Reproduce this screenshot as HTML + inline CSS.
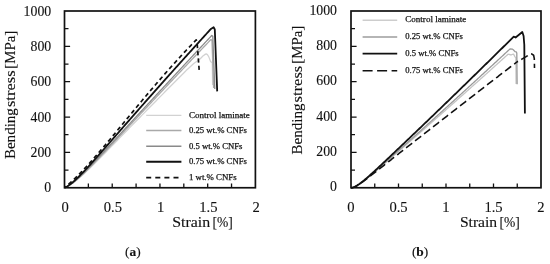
<!DOCTYPE html>
<html><head><meta charset="utf-8"><style>
html,body{margin:0;padding:0;background:#fff;}
body{width:550px;height:264px;overflow:hidden;}
svg{display:block;will-change:transform;}
text{font-family:"Liberation Serif", serif;fill:#111;stroke:#111;stroke-width:0.12px;}
.lg{stroke-width:0.25px;}
</style></head><body>
<svg width="550" height="264" viewBox="0 0 550 264">
<rect width="550" height="264" fill="#fff"/>
<path d="M64.50,187.75 L65.50,187.38 L66.50,186.95 L67.50,186.46 L68.50,185.92 L69.50,185.34 L70.50,184.71 L71.50,184.05 L72.50,183.35 L73.50,182.62 L74.50,181.87 L75.50,181.09 L76.50,180.28 L77.50,179.45 L78.50,178.61 L79.50,177.75 L80.50,176.87 L81.50,175.97 L82.50,175.07 L83.50,174.15 L84.50,173.22 L85.50,172.28 L86.50,171.34 L87.50,170.38 L88.50,169.42 L89.50,168.45 L90.50,167.48 L91.50,166.50 L92.50,165.51 L93.50,164.52 L94.50,163.53 L95.50,162.53 L96.50,161.53 L97.50,160.53 L98.50,159.52 L99.50,158.52 L100.50,157.51 L101.50,156.50 L102.50,155.48 L103.50,154.47 L104.50,153.45 L105.50,152.44 L106.50,151.42 L107.50,150.40 L108.50,149.38 L109.50,148.36 L110.50,147.34 L111.50,146.32 L112.50,145.29 L113.50,144.27 L114.50,143.25 L115.50,142.23 L116.50,141.20 L117.50,140.18 L118.50,139.16 L119.50,138.13 L120.50,137.11 L121.50,136.09 L122.50,135.06 L123.50,134.04 L124.50,133.02 L125.50,132.00 L126.50,130.97 L127.50,129.95 L128.50,128.93 L129.50,127.91 L130.50,126.89 L131.50,125.86 L132.50,124.84 L133.50,123.82 L134.50,122.80 L135.50,121.78 L136.50,120.76 L137.50,119.74 L138.50,118.72 L139.50,117.70 L140.50,116.68 L141.50,115.66 L142.50,114.65 L143.50,113.63 L144.50,112.61 L145.50,111.59 L146.50,110.58 L147.50,109.56 L148.50,108.54 L149.50,107.53 L150.50,106.51 L151.50,105.49 L152.50,104.48 L153.50,103.47 L154.50,102.45 L155.50,101.44 L156.50,100.42 L157.50,99.41 L158.50,98.40 L159.50,97.38 L160.50,96.37 L161.50,95.36 L162.50,94.35 L163.50,93.34 L164.50,92.33 L165.50,91.32 L166.50,90.31 L167.50,89.30 L168.50,88.29 L169.50,87.28 L170.50,86.27 L171.50,85.26 L172.50,84.25 L173.50,83.25 L174.50,82.24 L175.50,81.23 L176.50,80.22 L177.50,79.22 L178.50,78.21 L179.50,77.21 L180.50,76.20 L181.50,75.20 L182.50,74.19 L183.50,73.19 L184.50,72.19 L184.50,72.19 C184.83,71.85 185.17,71.52 185.50,71.18 C185.80,70.88 186.09,70.57 186.40,70.28 C188.75,68.11 191.04,65.85 193.50,63.80 C195.47,62.16 197.71,60.83 199.70,59.20 C201.05,58.10 202.13,56.66 203.50,55.60 C204.37,54.93 205.55,53.85 206.40,54.00 C207.25,54.15 208.07,55.54 208.60,56.50 C209.47,58.08 209.93,59.90 210.60,61.60 L212.30,63.00 L212.60,85.00" fill="none" stroke="#d2d2d2" stroke-width="1.3" stroke-linejoin="round"/>
<path d="M64.50,187.75 L65.50,187.34 L66.50,186.87 L67.50,186.35 L68.50,185.78 L69.50,185.17 L70.50,184.52 L71.50,183.83 L72.50,183.11 L73.50,182.36 L74.50,181.58 L75.50,180.77 L76.50,179.94 L77.50,179.10 L78.50,178.23 L79.50,177.34 L80.50,176.44 L81.50,175.52 L82.50,174.59 L83.50,173.64 L84.50,172.69 L85.50,171.72 L86.50,170.75 L87.50,169.76 L88.50,168.77 L89.50,167.77 L90.50,166.77 L91.50,165.76 L92.50,164.74 L93.50,163.72 L94.50,162.69 L95.50,161.66 L96.50,160.63 L97.50,159.59 L98.50,158.55 L99.50,157.50 L100.50,156.46 L101.50,155.41 L102.50,154.36 L103.50,153.30 L104.50,152.25 L105.50,151.19 L106.50,150.13 L107.50,149.08 L108.50,148.02 L109.50,146.95 L110.50,145.89 L111.50,144.83 L112.50,143.77 L113.50,142.70 L114.50,141.64 L115.50,140.57 L116.50,139.51 L117.50,138.44 L118.50,137.38 L119.50,136.31 L120.50,135.24 L121.50,134.18 L122.50,133.11 L123.50,132.04 L124.50,130.98 L125.50,129.91 L126.50,128.84 L127.50,127.77 L128.50,126.71 L129.50,125.64 L130.50,124.57 L131.50,123.51 L132.50,122.44 L133.50,121.37 L134.50,120.31 L135.50,119.24 L136.50,118.18 L137.50,117.11 L138.50,116.04 L139.50,114.98 L140.50,113.91 L141.50,112.85 L142.50,111.78 L143.50,110.72 L144.50,109.65 L145.50,108.59 L146.50,107.53 L147.50,106.46 L148.50,105.40 L149.50,104.33 L150.50,103.27 L151.50,102.21 L152.50,101.15 L153.50,100.08 L154.50,99.02 L155.50,97.96 L156.50,96.90 L157.50,95.84 L158.50,94.78 L159.50,93.72 L160.50,92.66 L161.50,91.60 L162.50,90.54 L163.50,89.48 L164.50,88.42 L165.50,87.36 L166.50,86.30 L167.50,85.24 L168.50,84.18 L169.50,83.12 L170.50,82.07 L171.50,81.01 L172.50,79.95 L173.50,78.90 L174.50,77.84 L175.50,76.78 L176.50,75.73 L177.50,74.67 L178.50,73.62 L179.50,72.56 L180.50,71.51 L181.50,70.45 L182.50,69.40 L183.50,68.34 L184.50,67.29 L185.50,66.23 L186.50,65.18 L187.50,64.13 L188.50,63.08 L189.50,62.02 L190.50,60.97 L191.50,59.92 L192.50,58.87 L193.50,57.82 L194.50,56.77 L195.50,55.72 L196.50,54.67 L197.50,53.62 L198.50,52.57 L199.50,51.52 L200.50,50.47 L201.50,49.42 L202.50,48.37 L203.50,47.32 L204.50,46.27 L205.50,45.22 L206.50,44.18 L207.50,43.13 L208.50,42.08 L209.50,41.04 L210.50,39.99 L211.00,39.47 L212.00,40.50 L213.60,88.00" fill="none" stroke="#a9a9a9" stroke-width="1.3" stroke-linejoin="round"/>
<path d="M64.50,187.75 L65.50,187.33 L66.50,186.85 L67.50,186.30 L68.50,185.70 L69.50,185.06 L70.50,184.37 L71.50,183.64 L72.50,182.88 L73.50,182.08 L74.50,181.26 L75.50,180.40 L76.50,179.53 L77.50,178.64 L78.50,177.72 L79.50,176.79 L80.50,175.84 L81.50,174.88 L82.50,173.91 L83.50,172.93 L84.50,171.93 L85.50,170.93 L86.50,169.92 L87.50,168.90 L88.50,167.87 L89.50,166.84 L90.50,165.80 L91.50,164.76 L92.50,163.71 L93.50,162.66 L94.50,161.61 L95.50,160.55 L96.50,159.49 L97.50,158.43 L98.50,157.37 L99.50,156.30 L100.50,155.23 L101.50,154.16 L102.50,153.09 L103.50,152.02 L104.50,150.94 L105.50,149.87 L106.50,148.79 L107.50,147.71 L108.50,146.64 L109.50,145.56 L110.50,144.48 L111.50,143.40 L112.50,142.32 L113.50,141.24 L114.50,140.16 L115.50,139.08 L116.50,138.00 L117.50,136.92 L118.50,135.84 L119.50,134.76 L120.50,133.68 L121.50,132.59 L122.50,131.51 L123.50,130.43 L124.50,129.35 L125.50,128.27 L126.50,127.19 L127.50,126.11 L128.50,125.02 L129.50,123.94 L130.50,122.86 L131.50,121.78 L132.50,120.70 L133.50,119.62 L134.50,118.54 L135.50,117.46 L136.50,116.38 L137.50,115.30 L138.50,114.22 L139.50,113.14 L140.50,112.06 L141.50,110.98 L142.50,109.90 L143.50,108.82 L144.50,107.74 L145.50,106.66 L146.50,105.58 L147.50,104.50 L148.50,103.42 L149.50,102.34 L150.50,101.26 L151.50,100.18 L152.50,99.11 L153.50,98.03 L154.50,96.95 L155.50,95.87 L156.50,94.79 L157.50,93.72 L158.50,92.64 L159.50,91.56 L160.50,90.48 L161.50,89.41 L162.50,88.33 L163.50,87.25 L164.50,86.18 L165.50,85.10 L166.50,84.02 L167.50,82.95 L168.50,81.87 L169.50,80.80 L170.50,79.72 L171.50,78.65 L172.50,77.57 L173.50,76.50 L174.50,75.42 L175.50,74.35 L176.50,73.27 L177.50,72.20 L178.50,71.12 L179.50,70.05 L180.50,68.97 L181.50,67.90 L182.50,66.83 L183.50,65.75 L184.50,64.68 L185.50,63.61 L186.50,62.53 L187.50,61.46 L188.50,60.39 L189.50,59.32 L190.50,58.24 L191.50,57.17 L192.50,56.10 L193.50,55.03 L194.50,53.96 L195.50,52.88 L196.50,51.81 L197.50,50.74 L198.50,49.67 L199.50,48.60 L200.50,47.53 L201.50,46.46 L202.50,45.39 L203.50,44.32 L204.50,43.25 L205.50,42.18 L206.50,41.11 L207.50,40.04 L208.50,38.97 L209.50,37.90 L210.50,36.83 L211.50,35.76 L211.80,35.44 L212.80,36.30 L214.80,89.00" fill="none" stroke="#8a8a8a" stroke-width="1.3" stroke-linejoin="round"/>
<path d="M64.50,187.75 L65.50,187.29 L66.50,186.76 L67.50,186.17 L68.50,185.52 L69.50,184.83 L70.50,184.09 L71.50,183.31 L72.50,182.49 L73.50,181.64 L74.50,180.76 L75.50,179.85 L76.50,178.92 L77.50,177.97 L78.50,176.99 L79.50,176.00 L80.50,174.99 L81.50,173.97 L82.50,172.93 L83.50,171.89 L84.50,170.83 L85.50,169.76 L86.50,168.68 L87.50,167.59 L88.50,166.50 L89.50,165.40 L90.50,164.30 L91.50,163.19 L92.50,162.08 L93.50,160.96 L94.50,159.84 L95.50,158.71 L96.50,157.58 L97.50,156.45 L98.50,155.32 L99.50,154.18 L100.50,153.05 L101.50,151.91 L102.50,150.77 L103.50,149.63 L104.50,148.49 L105.50,147.35 L106.50,146.20 L107.50,145.06 L108.50,143.92 L109.50,142.77 L110.50,141.63 L111.50,140.48 L112.50,139.34 L113.50,138.19 L114.50,137.05 L115.50,135.90 L116.50,134.76 L117.50,133.61 L118.50,132.47 L119.50,131.32 L120.50,130.18 L121.50,129.04 L122.50,127.89 L123.50,126.75 L124.50,125.61 L125.50,124.46 L126.50,123.32 L127.50,122.18 L128.50,121.04 L129.50,119.90 L130.50,118.76 L131.50,117.62 L132.50,116.48 L133.50,115.34 L134.50,114.20 L135.50,113.07 L136.50,111.93 L137.50,110.79 L138.50,109.66 L139.50,108.52 L140.50,107.39 L141.50,106.25 L142.50,105.12 L143.50,103.99 L144.50,102.85 L145.50,101.72 L146.50,100.59 L147.50,99.46 L148.50,98.33 L149.50,97.20 L150.50,96.07 L151.50,94.94 L152.50,93.81 L153.50,92.68 L154.50,91.56 L155.50,90.43 L156.50,89.30 L157.50,88.18 L158.50,87.05 L159.50,85.93 L160.50,84.81 L161.50,83.68 L162.50,82.56 L163.50,81.44 L164.50,80.32 L165.50,79.20 L166.50,78.08 L167.50,76.96 L168.50,75.84 L169.50,74.72 L170.50,73.60 L171.50,72.49 L172.50,71.37 L173.50,70.25 L174.50,69.14 L175.50,68.02 L176.50,66.91 L177.50,65.80 L178.50,64.68 L179.50,63.57 L180.50,62.46 L181.50,61.35 L182.50,60.24 L183.50,59.13 L184.50,58.02 L185.50,56.91 L186.50,55.80 L187.50,54.69 L188.50,53.59 L189.50,52.48 L190.50,51.37 L191.50,50.27 L192.50,49.16 L193.50,48.06 L194.50,46.96 L195.50,45.85 L196.50,44.75 L197.50,43.65 L198.50,42.55 L199.50,41.45 L200.50,40.35 L201.50,39.25 L202.50,38.15 L203.50,37.05 L204.50,35.95 L205.50,34.85 L206.50,33.76 L207.50,32.66 L208.50,31.57 L209.50,30.47 L210.50,29.38 L210.90,28.94 L213.60,27.30 L214.80,29.50 L217.20,91.40" fill="none" stroke="#111" stroke-width="1.8" stroke-linejoin="round"/>
<path d="M64.50,187.75 L65.50,186.93 L66.50,186.10 L67.50,185.25 L68.50,184.38 L69.50,183.50 L70.50,182.60 L71.50,181.68 L72.50,180.75 L73.50,179.81 L74.50,178.86 L75.50,177.89 L76.50,176.90 L77.50,175.91 L78.50,174.91 L79.50,173.89 L80.50,172.86 L81.50,171.82 L82.50,170.78 L83.50,169.72 L84.50,168.65 L85.50,167.58 L86.50,166.49 L87.50,165.40 L88.50,164.30 L89.50,163.20 L90.50,162.08 L91.50,160.96 L92.50,159.83 L93.50,158.70 L94.50,157.56 L95.50,156.42 L96.50,155.27 L97.50,154.11 L98.50,152.95 L99.50,151.79 L100.50,150.62 L101.50,149.44 L102.50,148.27 L103.50,147.09 L104.50,145.90 L105.50,144.71 L106.50,143.52 L107.50,142.33 L108.50,141.13 L109.50,139.94 L110.50,138.74 L111.50,137.53 L112.50,136.33 L113.50,135.12 L114.50,133.92 L115.50,132.71 L116.50,131.50 L117.50,130.29 L118.50,129.07 L119.50,127.86 L120.50,126.65 L121.50,125.44 L122.50,124.22 L123.50,123.01 L124.50,121.79 L125.50,120.58 L126.50,119.36 L127.50,118.15 L128.50,116.94 L129.50,115.72 L130.50,114.51 L131.50,113.30 L132.50,112.09 L133.50,110.88 L134.50,109.67 L135.50,108.47 L136.50,107.26 L137.50,106.06 L138.50,104.85 L139.50,103.65 L140.50,102.45 L141.50,101.25 L142.50,100.05 L143.50,98.86 L144.50,97.67 L145.50,96.48 L146.50,95.29 L147.50,94.10 L148.50,92.91 L149.50,91.73 L150.50,90.55 L151.50,89.37 L152.50,88.20 L153.50,87.03 L154.50,85.85 L155.50,84.69 L156.50,83.52 L157.50,82.36 L158.50,81.20 L159.50,80.04 L160.50,78.89 L161.50,77.74 L162.50,76.59 L163.50,75.44 L164.50,74.30 L165.50,73.16 L166.50,72.03 L167.50,70.89 L168.50,69.76 L169.50,68.64 L170.50,67.51 L171.50,66.39 L172.50,65.28 L173.50,64.16 L174.50,63.06 L175.50,61.95 L176.50,60.85 L177.50,59.75 L178.50,58.65 L179.50,57.56 L180.50,56.47 L181.50,55.39 L182.50,54.30 L183.50,53.23 L184.50,52.15 L185.50,51.08 L186.50,50.02 L187.50,48.95 L188.50,47.89 L189.50,46.84 L190.50,45.79 L191.50,44.74 L192.50,43.70 L193.50,42.66 L194.50,41.62 L195.50,40.59 L196.20,39.87 L197.00,41.50 L199.30,71.60" fill="none" stroke="#111" stroke-width="1.7" stroke-linejoin="round" stroke-dasharray="4.2 3.1" stroke-dashoffset="2.0"/>
<line x1="146.2" y1="115.4" x2="181.4" y2="115.4" stroke="#d2d2d2" stroke-width="1.4"/>
<text x="188.9" y="117.90" font-size="8.9" class="lg" textLength="61.0" lengthAdjust="spacingAndGlyphs">Control laminate</text>
<line x1="146.2" y1="130.5" x2="181.4" y2="130.5" stroke="#a9a9a9" stroke-width="1.4"/>
<text x="188.9" y="133.00" font-size="8.9" class="lg" textLength="58.0" lengthAdjust="spacingAndGlyphs">0.25 wt.% CNFs</text>
<line x1="146.2" y1="146.2" x2="181.4" y2="146.2" stroke="#8a8a8a" stroke-width="1.4"/>
<text x="188.9" y="148.70" font-size="8.9" class="lg" textLength="53.5" lengthAdjust="spacingAndGlyphs">0.5 wt.% CNFs</text>
<line x1="146.2" y1="161.8" x2="181.4" y2="161.8" stroke="#111" stroke-width="2.0"/>
<text x="188.9" y="164.30" font-size="8.9" class="lg" textLength="58.0" lengthAdjust="spacingAndGlyphs">0.75 wt.% CNFs</text>
<line x1="146.2" y1="177.6" x2="181.4" y2="177.6" stroke="#111" stroke-width="1.9" stroke-dasharray="5 4.1"/>
<text x="188.9" y="180.10" font-size="8.9" class="lg" textLength="47.8" lengthAdjust="spacingAndGlyphs">1 wt.% CNFs</text>
<rect x="64.5" y="11.0" width="190.9" height="176.75" fill="none" stroke="#111" stroke-width="1.7"/>
<path d="M88.36,187.75 v-4.2 M112.22,187.75 v-4.2 M136.09,187.75 v-4.2 M159.95,187.75 v-4.2 M183.81,187.75 v-4.2 M207.68,187.75 v-4.2 M231.54,187.75 v-4.2 M64.5,170.07 h4.0 M64.5,152.40 h5.6 M64.5,134.72 h4.0 M64.5,117.05 h5.6 M64.5,99.38 h4.0 M64.5,81.70 h5.6 M64.5,64.03 h4.0 M64.5,46.35 h5.6 M64.5,28.68 h4.0" stroke="#111" stroke-width="1.3" fill="none"/>
<text x="51.2" y="192.35" text-anchor="end" font-size="13.8">0</text>
<text x="51.2" y="157.00" text-anchor="end" font-size="13.8">200</text>
<text x="51.2" y="121.65" text-anchor="end" font-size="13.8">400</text>
<text x="51.2" y="86.30" text-anchor="end" font-size="13.8">600</text>
<text x="51.2" y="50.95" text-anchor="end" font-size="13.8">800</text>
<text x="51.2" y="15.60" text-anchor="end" font-size="13.8">1000</text>
<text x="65.20" y="211.6" text-anchor="middle" font-size="14.6">0</text>
<text x="112.92" y="211.6" text-anchor="middle" font-size="14.6">0.5</text>
<text x="160.65" y="211.6" text-anchor="middle" font-size="14.6">1</text>
<text x="208.38" y="211.6" text-anchor="middle" font-size="14.6">1.5</text>
<text x="256.10" y="211.6" text-anchor="middle" font-size="14.6">2</text>
<text x="172.3" y="226.8" font-size="14.9" textLength="37.9" lengthAdjust="spacingAndGlyphs">Strain</text>
<text x="212.4" y="226.8" font-size="14.9" textLength="20.3" lengthAdjust="spacingAndGlyphs">[%]</text>
<text transform="translate(15.2,159.1) rotate(-90)" x="0" y="0" font-size="14.9" textLength="51.0" lengthAdjust="spacingAndGlyphs">Bending</text>
<text transform="translate(15.2,107.1) rotate(-90)" x="0" y="0" font-size="14.9" textLength="36.7" lengthAdjust="spacingAndGlyphs">stress</text>
<text transform="translate(15.2,68.7) rotate(-90)" x="0" y="0" font-size="14.9" textLength="38.0" lengthAdjust="spacingAndGlyphs">[MPa]</text>
<text x="125.0" y="255.6" font-size="13.4">(<tspan font-weight="bold">a</tspan>)</text>
<defs><clipPath id="cA"><rect x="0" y="0" width="518" height="264"/></clipPath><clipPath id="cB"><rect x="518" y="0" width="40" height="264"/></clipPath></defs>
<path d="M351.00,187.80 L352.00,187.73 L353.00,187.52 L354.00,187.21 L355.00,186.80 L356.00,186.32 L357.00,185.77 L358.00,185.17 L359.00,184.53 L360.00,183.85 L361.00,183.14 L362.00,182.41 L363.00,181.65 L364.00,180.88 L365.00,180.09 L366.00,179.29 L367.00,178.48 L368.00,177.66 L369.00,176.83 L370.00,176.00 L371.00,175.16 L372.00,174.32 L373.00,173.47 L374.00,172.62 L375.00,171.77 L376.00,170.91 L377.00,170.06 L378.00,169.20 L379.00,168.34 L380.00,167.48 L381.00,166.62 L382.00,165.76 L383.00,164.89 L384.00,164.03 L385.00,163.17 L386.00,162.30 L387.00,161.43 L388.00,160.57 L389.00,159.70 L390.00,158.83 L391.00,157.97 L392.00,157.10 L393.00,156.23 L394.00,155.36 L395.00,154.49 L396.00,153.62 L397.00,152.75 L398.00,151.88 L399.00,151.01 L400.00,150.14 L401.00,149.27 L402.00,148.40 L403.00,147.53 L404.00,146.65 L405.00,145.78 L406.00,144.91 L407.00,144.04 L408.00,143.16 L409.00,142.29 L410.00,141.42 L411.00,140.54 L412.00,139.67 L413.00,138.79 L414.00,137.92 L415.00,137.04 L416.00,136.17 L417.00,135.29 L418.00,134.41 L419.00,133.54 L420.00,132.66 L421.00,131.78 L422.00,130.90 L423.00,130.03 L424.00,129.15 L425.00,128.27 L426.00,127.39 L427.00,126.51 L428.00,125.63 L429.00,124.75 L430.00,123.87 L431.00,122.99 L432.00,122.11 L433.00,121.23 L434.00,120.35 L435.00,119.47 L436.00,118.59 L437.00,117.70 L438.00,116.82 L439.00,115.94 L440.00,115.06 L441.00,114.17 L442.00,113.29 L443.00,112.41 L444.00,111.52 L445.00,110.64 L446.00,109.75 L447.00,108.87 L448.00,107.98 L449.00,107.10 L450.00,106.21 L451.00,105.32 L452.00,104.44 L453.00,103.55 L454.00,102.66 L455.00,101.78 L456.00,100.89 L457.00,100.00 L458.00,99.11 L459.00,98.22 L460.00,97.33 L461.00,96.45 L462.00,95.56 L463.00,94.67 L464.00,93.78 L465.00,92.89 L466.00,91.99 L467.00,91.10 L468.00,90.21 L469.00,89.32 L470.00,88.43 L471.00,87.54 L472.00,86.64 L473.00,85.75 L474.00,84.86 L475.00,83.96 L476.00,83.07 L477.00,82.18 L478.00,81.28 L479.00,80.39 L480.00,79.49 L481.00,78.60 L482.00,77.70 L483.00,76.81 L484.00,75.91 L485.00,75.01 L486.00,74.12 L487.00,73.22 L488.00,72.32 L489.00,71.42 L490.00,70.53 L491.00,69.63 L492.00,68.73 L493.00,67.83 L494.00,66.93 L495.00,66.03 L496.00,65.13 L497.00,64.23 L498.00,63.33 L499.00,62.43 L500.00,61.53 L501.00,60.63 L502.00,59.73 L503.00,58.82 L504.00,57.92 L505.00,57.02 L506.00,56.12 L507.00,55.21 L507.00,55.21 C507.33,54.91 507.67,54.61 508.00,54.31 C508.10,54.22 508.18,54.01 508.30,54.04 C509.11,54.21 509.96,54.89 510.80,54.90 C511.63,54.91 512.66,53.84 513.30,54.10 C513.99,54.38 514.28,55.72 514.80,56.50 C515.14,57.02 515.53,57.50 515.90,58.00 L516.10,84.00" fill="none" stroke="#c4c4c4" stroke-width="1.3" stroke-linejoin="round"/>
<path d="M351.00,187.80 L352.00,187.72 L353.00,187.51 L354.00,187.19 L355.00,186.78 L356.00,186.29 L357.00,185.73 L358.00,185.12 L359.00,184.46 L360.00,183.77 L361.00,183.04 L362.00,182.29 L363.00,181.52 L364.00,180.72 L365.00,179.92 L366.00,179.10 L367.00,178.27 L368.00,177.43 L369.00,176.58 L370.00,175.73 L371.00,174.87 L372.00,174.01 L373.00,173.14 L374.00,172.27 L375.00,171.40 L376.00,170.52 L377.00,169.64 L378.00,168.77 L379.00,167.89 L380.00,167.00 L381.00,166.12 L382.00,165.24 L383.00,164.35 L384.00,163.47 L385.00,162.58 L386.00,161.69 L387.00,160.81 L388.00,159.92 L389.00,159.03 L390.00,158.14 L391.00,157.25 L392.00,156.36 L393.00,155.47 L394.00,154.58 L395.00,153.69 L396.00,152.80 L397.00,151.91 L398.00,151.01 L399.00,150.12 L400.00,149.23 L401.00,148.33 L402.00,147.44 L403.00,146.55 L404.00,145.65 L405.00,144.76 L406.00,143.86 L407.00,142.97 L408.00,142.07 L409.00,141.18 L410.00,140.28 L411.00,139.38 L412.00,138.48 L413.00,137.59 L414.00,136.69 L415.00,135.79 L416.00,134.89 L417.00,133.99 L418.00,133.09 L419.00,132.20 L420.00,131.30 L421.00,130.40 L422.00,129.49 L423.00,128.59 L424.00,127.69 L425.00,126.79 L426.00,125.89 L427.00,124.99 L428.00,124.08 L429.00,123.18 L430.00,122.28 L431.00,121.37 L432.00,120.47 L433.00,119.57 L434.00,118.66 L435.00,117.76 L436.00,116.85 L437.00,115.95 L438.00,115.04 L439.00,114.13 L440.00,113.23 L441.00,112.32 L442.00,111.41 L443.00,110.51 L444.00,109.60 L445.00,108.69 L446.00,107.78 L447.00,106.87 L448.00,105.96 L449.00,105.05 L450.00,104.14 L451.00,103.23 L452.00,102.32 L453.00,101.41 L454.00,100.50 L455.00,99.59 L456.00,98.68 L457.00,97.76 L458.00,96.85 L459.00,95.94 L460.00,95.02 L461.00,94.11 L462.00,93.20 L463.00,92.28 L464.00,91.37 L465.00,90.45 L466.00,89.54 L467.00,88.62 L468.00,87.70 L469.00,86.79 L470.00,85.87 L471.00,84.95 L472.00,84.04 L473.00,83.12 L474.00,82.20 L475.00,81.28 L476.00,80.36 L477.00,79.45 L478.00,78.53 L479.00,77.61 L480.00,76.69 L481.00,75.77 L482.00,74.84 L483.00,73.92 L484.00,73.00 L485.00,72.08 L486.00,71.16 L487.00,70.24 L488.00,69.31 L489.00,68.39 L490.00,67.47 L491.00,66.54 L492.00,65.62 L493.00,64.69 L494.00,63.77 L495.00,62.84 L496.00,61.92 L497.00,60.99 L498.00,60.07 L499.00,59.14 L500.00,58.21 L501.00,57.29 L502.00,56.36 L503.00,55.43 L504.00,54.50 L505.00,53.57 L506.00,52.64 L507.00,51.72 L508.00,50.79 L509.00,49.86 L510.00,48.93 L512.50,49.10 L513.75,50.30 L515.00,51.60 L516.20,51.80 L516.80,53.00 L517.10,84.20" fill="none" stroke="#999" stroke-width="1.3" stroke-linejoin="round"/>
<path d="M351.00,187.80 L352.00,187.62 L353.00,187.34 L354.00,186.97 L355.00,186.53 L356.00,186.01 L357.00,185.44 L358.00,184.81 L359.00,184.15 L360.00,183.44 L361.00,182.71 L362.00,181.94 L363.00,181.15 L364.00,180.34 L365.00,179.52 L366.00,178.67 L367.00,177.82 L368.00,176.95 L369.00,176.07 L370.00,175.18 L371.00,174.29 L372.00,173.38 L373.00,172.48 L374.00,171.56 L375.00,170.65 L376.00,169.72 L377.00,168.80 L378.00,167.87 L379.00,166.94 L380.00,166.01 L381.00,165.08 L382.00,164.14 L383.00,163.20 L384.00,162.26 L385.00,161.32 L386.00,160.38 L387.00,159.44 L388.00,158.49 L389.00,157.55 L390.00,156.60 L391.00,155.66 L392.00,154.71 L393.00,153.76 L394.00,152.82 L395.00,151.87 L396.00,150.92 L397.00,149.97 L398.00,149.02 L399.00,148.07 L400.00,147.12 L401.00,146.17 L402.00,145.22 L403.00,144.26 L404.00,143.31 L405.00,142.36 L406.00,141.40 L407.00,140.45 L408.00,139.50 L409.00,138.54 L410.00,137.59 L411.00,136.63 L412.00,135.68 L413.00,134.72 L414.00,133.76 L415.00,132.81 L416.00,131.85 L417.00,130.89 L418.00,129.93 L419.00,128.98 L420.00,128.02 L421.00,127.06 L422.00,126.10 L423.00,125.14 L424.00,124.18 L425.00,123.22 L426.00,122.26 L427.00,121.30 L428.00,120.34 L429.00,119.38 L430.00,118.41 L431.00,117.45 L432.00,116.49 L433.00,115.53 L434.00,114.56 L435.00,113.60 L436.00,112.64 L437.00,111.67 L438.00,110.71 L439.00,109.74 L440.00,108.78 L441.00,107.81 L442.00,106.84 L443.00,105.88 L444.00,104.91 L445.00,103.94 L446.00,102.98 L447.00,102.01 L448.00,101.04 L449.00,100.07 L450.00,99.10 L451.00,98.13 L452.00,97.16 L453.00,96.19 L454.00,95.22 L455.00,94.25 L456.00,93.28 L457.00,92.31 L458.00,91.34 L459.00,90.37 L460.00,89.39 L461.00,88.42 L462.00,87.45 L463.00,86.47 L464.00,85.50 L465.00,84.53 L466.00,83.55 L467.00,82.58 L468.00,81.60 L469.00,80.63 L470.00,79.65 L471.00,78.67 L472.00,77.70 L473.00,76.72 L474.00,75.74 L475.00,74.77 L476.00,73.79 L477.00,72.81 L478.00,71.83 L479.00,70.85 L480.00,69.87 L481.00,68.89 L482.00,67.91 L483.00,66.93 L484.00,65.95 L485.00,64.97 L486.00,63.99 L487.00,63.01 L488.00,62.03 L489.00,61.04 L490.00,60.06 L491.00,59.08 L492.00,58.09 L493.00,57.11 L494.00,56.13 L495.00,55.14 L496.00,54.16 L497.00,53.17 L498.00,52.18 L499.00,51.20 L500.00,50.21 L501.00,49.23 L502.00,48.24 L503.00,47.25 L504.00,46.26 L505.00,45.28 L506.00,44.29 L507.00,43.30 L508.00,42.31 L509.00,41.32 L510.00,40.33 L511.00,39.34 L512.00,38.35 L513.00,37.36 L513.70,36.67 L515.60,37.50 L522.30,32.00 L523.60,36.00 L524.30,44.70 L524.90,113.60" fill="none" stroke="#111" stroke-width="1.8" stroke-linejoin="round"/>
<path d="M351.00,187.80 L352.00,187.72 L353.00,187.49 L354.00,187.15 L355.00,186.71 L356.00,186.21 L357.00,185.64 L358.00,185.03 L359.00,184.39 L360.00,183.71 L361.00,183.01 L362.00,182.30 L363.00,181.57 L364.00,180.82 L365.00,180.07 L366.00,179.31 L367.00,178.55 L368.00,177.78 L369.00,177.00 L370.00,176.23 L371.00,175.45 L372.00,174.67 L373.00,173.89 L374.00,173.10 L375.00,172.32 L376.00,171.54 L377.00,170.75 L378.00,169.97 L379.00,169.18 L380.00,168.40 L381.00,167.61 L382.00,166.83 L383.00,166.04 L384.00,165.26 L385.00,164.47 L386.00,163.69 L387.00,162.90 L388.00,162.12 L389.00,161.33 L390.00,160.55 L391.00,159.76 L392.00,158.98 L393.00,158.19 L394.00,157.41 L395.00,156.62 L396.00,155.84 L397.00,155.05 L398.00,154.27 L399.00,153.49 L400.00,152.70 L401.00,151.92 L402.00,151.13 L403.00,150.35 L404.00,149.57 L405.00,148.78 L406.00,148.00 L407.00,147.22 L408.00,146.44 L409.00,145.65 L410.00,144.87 L411.00,144.09 L412.00,143.31 L413.00,142.52 L414.00,141.74 L415.00,140.96 L416.00,140.18 L417.00,139.40 L418.00,138.61 L419.00,137.83 L420.00,137.05 L421.00,136.27 L422.00,135.49 L423.00,134.71 L424.00,133.93 L425.00,133.15 L426.00,132.37 L427.00,131.59 L428.00,130.81 L429.00,130.03 L430.00,129.25 L431.00,128.47 L432.00,127.69 L433.00,126.91 L434.00,126.13 L435.00,125.35 L436.00,124.57 L437.00,123.79 L438.00,123.01 L439.00,122.23 L440.00,121.45 L441.00,120.68 L442.00,119.90 L443.00,119.12 L444.00,118.34 L445.00,117.56 L446.00,116.78 L447.00,116.01 L448.00,115.23 L449.00,114.45 L450.00,113.67 L451.00,112.90 L452.00,112.12 L453.00,111.34 L454.00,110.57 L455.00,109.79 L456.00,109.01 L457.00,108.24 L458.00,107.46 L459.00,106.68 L460.00,105.91 L461.00,105.13 L462.00,104.35 L463.00,103.58 L464.00,102.80 L465.00,102.03 L466.00,101.25 L467.00,100.48 L468.00,99.70 L469.00,98.93 L470.00,98.15 L471.00,97.38 L472.00,96.60 L473.00,95.83 L474.00,95.05 L475.00,94.28 L476.00,93.51 L477.00,92.73 L478.00,91.96 L479.00,91.18 L480.00,90.41 L481.00,89.64 L482.00,88.86 L483.00,88.09 L484.00,87.32 L485.00,86.54 L486.00,85.77 L487.00,85.00 L488.00,84.23 L489.00,83.45 L490.00,82.68 L491.00,81.91 L492.00,81.14 L493.00,80.37 L494.00,79.59 L495.00,78.82 L496.00,78.05 L497.00,77.28 L498.00,76.51 L499.00,75.74 L500.00,74.97 L501.00,74.19 L502.00,73.42 L503.00,72.65 L504.00,71.88 L505.00,71.11 L505.00,71.11 C505.33,70.86 505.67,70.60 506.00,70.34 C506.03,70.32 506.07,70.29 506.10,70.26 C508.23,68.61 510.33,66.91 512.50,65.30 C514.40,63.89 516.30,62.47 518.30,61.20 C520.87,59.57 523.56,58.12 526.20,56.60 C527.79,55.69 529.39,54.21 531.00,53.90 C531.85,53.74 532.73,54.77 533.60,55.20 L534.30,58.60 L534.50,67.90" fill="none" stroke="#111" stroke-width="1.6" stroke-linejoin="round" stroke-dasharray="7.6 3.8" clip-path="url(#cA)"/>
<path d="M351.00,187.80 L352.00,187.72 L353.00,187.49 L354.00,187.15 L355.00,186.71 L356.00,186.21 L357.00,185.64 L358.00,185.03 L359.00,184.39 L360.00,183.71 L361.00,183.01 L362.00,182.30 L363.00,181.57 L364.00,180.82 L365.00,180.07 L366.00,179.31 L367.00,178.55 L368.00,177.78 L369.00,177.00 L370.00,176.23 L371.00,175.45 L372.00,174.67 L373.00,173.89 L374.00,173.10 L375.00,172.32 L376.00,171.54 L377.00,170.75 L378.00,169.97 L379.00,169.18 L380.00,168.40 L381.00,167.61 L382.00,166.83 L383.00,166.04 L384.00,165.26 L385.00,164.47 L386.00,163.69 L387.00,162.90 L388.00,162.12 L389.00,161.33 L390.00,160.55 L391.00,159.76 L392.00,158.98 L393.00,158.19 L394.00,157.41 L395.00,156.62 L396.00,155.84 L397.00,155.05 L398.00,154.27 L399.00,153.49 L400.00,152.70 L401.00,151.92 L402.00,151.13 L403.00,150.35 L404.00,149.57 L405.00,148.78 L406.00,148.00 L407.00,147.22 L408.00,146.44 L409.00,145.65 L410.00,144.87 L411.00,144.09 L412.00,143.31 L413.00,142.52 L414.00,141.74 L415.00,140.96 L416.00,140.18 L417.00,139.40 L418.00,138.61 L419.00,137.83 L420.00,137.05 L421.00,136.27 L422.00,135.49 L423.00,134.71 L424.00,133.93 L425.00,133.15 L426.00,132.37 L427.00,131.59 L428.00,130.81 L429.00,130.03 L430.00,129.25 L431.00,128.47 L432.00,127.69 L433.00,126.91 L434.00,126.13 L435.00,125.35 L436.00,124.57 L437.00,123.79 L438.00,123.01 L439.00,122.23 L440.00,121.45 L441.00,120.68 L442.00,119.90 L443.00,119.12 L444.00,118.34 L445.00,117.56 L446.00,116.78 L447.00,116.01 L448.00,115.23 L449.00,114.45 L450.00,113.67 L451.00,112.90 L452.00,112.12 L453.00,111.34 L454.00,110.57 L455.00,109.79 L456.00,109.01 L457.00,108.24 L458.00,107.46 L459.00,106.68 L460.00,105.91 L461.00,105.13 L462.00,104.35 L463.00,103.58 L464.00,102.80 L465.00,102.03 L466.00,101.25 L467.00,100.48 L468.00,99.70 L469.00,98.93 L470.00,98.15 L471.00,97.38 L472.00,96.60 L473.00,95.83 L474.00,95.05 L475.00,94.28 L476.00,93.51 L477.00,92.73 L478.00,91.96 L479.00,91.18 L480.00,90.41 L481.00,89.64 L482.00,88.86 L483.00,88.09 L484.00,87.32 L485.00,86.54 L486.00,85.77 L487.00,85.00 L488.00,84.23 L489.00,83.45 L490.00,82.68 L491.00,81.91 L492.00,81.14 L493.00,80.37 L494.00,79.59 L495.00,78.82 L496.00,78.05 L497.00,77.28 L498.00,76.51 L499.00,75.74 L500.00,74.97 L501.00,74.19 L502.00,73.42 L503.00,72.65 L504.00,71.88 L505.00,71.11 L505.00,71.11 C505.33,70.86 505.67,70.60 506.00,70.34 C506.03,70.32 506.07,70.29 506.10,70.26 C508.23,68.61 510.33,66.91 512.50,65.30 C514.40,63.89 516.30,62.47 518.30,61.20 C520.87,59.57 523.56,58.12 526.20,56.60 C527.79,55.69 529.39,54.21 531.00,53.90 C531.85,53.74 532.73,54.77 533.60,55.20 L534.30,58.60 L534.50,67.90" fill="none" stroke="#111" stroke-width="1.6" stroke-linejoin="round" stroke-dasharray="7.6 3.8" stroke-dashoffset="3.0" clip-path="url(#cB)"/>
<line x1="362.6" y1="20.3" x2="397.2" y2="20.3" stroke="#cdcdcd" stroke-width="1.5"/>
<text x="405.3" y="22.30" font-size="8.9" class="lg" textLength="61.0" lengthAdjust="spacingAndGlyphs">Control laminate</text>
<line x1="362.6" y1="36.9" x2="397.2" y2="36.9" stroke="#9c9c9c" stroke-width="1.5"/>
<text x="405.3" y="38.90" font-size="8.9" class="lg" textLength="57.6" lengthAdjust="spacingAndGlyphs">0.25 wt.% CNFs</text>
<line x1="362.6" y1="53.7" x2="397.2" y2="53.7" stroke="#111" stroke-width="1.8"/>
<text x="405.3" y="55.70" font-size="8.9" class="lg" textLength="53.3" lengthAdjust="spacingAndGlyphs">0.5 wt.% CNFs</text>
<line x1="362.6" y1="70.8" x2="397.2" y2="70.8" stroke="#111" stroke-width="1.6" stroke-dasharray="10 4.5"/>
<text x="405.3" y="72.80" font-size="8.9" class="lg" textLength="57.6" lengthAdjust="spacingAndGlyphs">0.75 wt.% CNFs</text>
<rect x="351.0" y="11.0" width="190.0" height="176.75" fill="none" stroke="#111" stroke-width="1.7"/>
<path d="M374.75,187.75 v-4.2 M398.50,187.75 v-4.2 M422.25,187.75 v-4.2 M446.00,187.75 v-4.2 M469.75,187.75 v-4.2 M493.50,187.75 v-4.2 M517.25,187.75 v-4.2 M351.0,170.07 h4.0 M351.0,152.40 h5.6 M351.0,134.72 h4.0 M351.0,117.05 h5.6 M351.0,99.38 h4.0 M351.0,81.70 h5.6 M351.0,64.03 h4.0 M351.0,46.35 h5.6 M351.0,28.68 h4.0" stroke="#111" stroke-width="1.3" fill="none"/>
<text x="337.0" y="191.35" text-anchor="end" font-size="13.8">0</text>
<text x="337.0" y="156.00" text-anchor="end" font-size="13.8">200</text>
<text x="337.0" y="120.65" text-anchor="end" font-size="13.8">400</text>
<text x="337.0" y="85.30" text-anchor="end" font-size="13.8">600</text>
<text x="337.0" y="49.95" text-anchor="end" font-size="13.8">800</text>
<text x="337.0" y="14.60" text-anchor="end" font-size="13.8">1000</text>
<text x="351.00" y="212.4" text-anchor="middle" font-size="14.6">0</text>
<text x="398.50" y="212.4" text-anchor="middle" font-size="14.6">0.5</text>
<text x="446.00" y="212.4" text-anchor="middle" font-size="14.6">1</text>
<text x="493.50" y="212.4" text-anchor="middle" font-size="14.6">1.5</text>
<text x="541.00" y="212.4" text-anchor="middle" font-size="14.6">2</text>
<text x="459.9" y="226.9" font-size="14.9" textLength="37.3" lengthAdjust="spacingAndGlyphs">Strain</text>
<text x="499.4" y="226.9" font-size="14.9" textLength="20.3" lengthAdjust="spacingAndGlyphs">[%]</text>
<text transform="translate(302.2,154.5) rotate(-90)" x="0" y="0" font-size="14.9" textLength="51.0" lengthAdjust="spacingAndGlyphs">Bending</text>
<text transform="translate(302.2,102.4) rotate(-90)" x="0" y="0" font-size="14.9" textLength="36.7" lengthAdjust="spacingAndGlyphs">stress</text>
<text transform="translate(302.2,63.7) rotate(-90)" x="0" y="0" font-size="14.9" textLength="38.0" lengthAdjust="spacingAndGlyphs">[MPa]</text>
<text x="411.9" y="255.6" font-size="13.4">(<tspan font-weight="bold">b</tspan>)</text>
</svg></body></html>
